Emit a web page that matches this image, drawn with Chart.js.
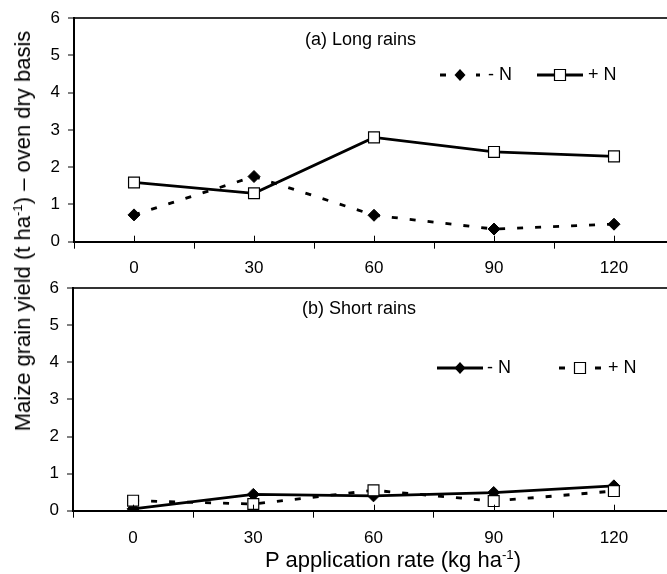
<!DOCTYPE html>
<html>
<head>
<meta charset="utf-8">
<script src="https://cdn.jsdelivr.net/npm/chart.js"></script>
<style>
  html, body { margin: 0; padding: 0; background: #fff; overflow: hidden; width: 667px; height: 574px; }
  #wrap { position: relative; width: 667px; height: 574px; font-family: 'Liberation Sans', Arial, sans-serif; }
  canvas { position: absolute; left: 0; }
  .ytitle, .xtitle { position: absolute; white-space: nowrap; font-size: 22px; color: #000; line-height: 1; }
  .ytitle { left: 23px; top: 231px; transform: translate(-50%, -50%) rotate(-90deg); }
  .xtitle { left: 393px; top: 560px; transform: translate(-50%, -50%); }
  sup { font-size: 0.6em; vertical-align: 0.6em; line-height: 0; }
</style>
</head>
<body>
<div id="wrap">
  <canvas id="top" width="690" height="280" style="top:0"></canvas>
  <canvas id="bottom" width="690" height="304" style="top:270px"></canvas>
  <div class="ytitle">Maize grain yield (t ha<sup>-1</sup>) – oven dry basis</div>
  <div class="xtitle">P application rate (kg ha<sup>-1</sup>)</div>
</div>
<script>
// P rates (kg/ha)
const categories = [0, 30, 60, 90, 120];
// (a) long rains
const longMinusN = [0.72, 1.75, 0.71, 0.34, 0.47];
const longPlusN = [1.59, 1.30, 2.80, 2.41, 2.29];
// (b) short rains
const shortMinusN = [0.05, 0.44, 0.40, 0.49, 0.67];
const shortPlusN = [0.27, 0.18, 0.55, 0.26, 0.53];

const FONT = "'Liberation Sans', Arial, sans-serif";
const DASH = [6, 12];
const LW = 2.8;

function pts(values) {
  return categories.map((c, i) => ({ x: c, y: values[i] }));
}

function marker(ctx, style, x, y) {
  ctx.save();
  ctx.setLineDash([]);
  ctx.beginPath();
  if (style === 'diamond') {
    ctx.moveTo(x, y - 6); ctx.lineTo(x + 5.5, y); ctx.lineTo(x, y + 6); ctx.lineTo(x - 5.5, y);
    ctx.closePath();
    ctx.fillStyle = '#000'; ctx.fill();
  } else {
    ctx.rect(x - 5.5, y - 5.5, 11, 11);
    ctx.fillStyle = '#fff'; ctx.fill();
    ctx.lineWidth = 1.2; ctx.strokeStyle = '#000'; ctx.stroke();
  }
  ctx.restore();
}

const decor = {
  id: 'decor',
  afterDraw(chart, args, opts) {
    const ctx = chart.ctx;
    const xs = chart.scales.x;
    ctx.save();
    // small inside ticks at each P rate
    ctx.strokeStyle = '#000'; ctx.lineWidth = 1;
    categories.forEach(c => {
      const px = Math.round(xs.getPixelForValue(c)) + 0.5;
      ctx.beginPath(); ctx.moveTo(px, xs.top); ctx.lineTo(px, xs.top - 6); ctx.stroke();
    });
    // panel label
    ctx.fillStyle = '#000';
    ctx.font = '18px ' + FONT;
    ctx.textBaseline = 'middle';
    ctx.textAlign = 'left';
    ctx.fillText(opts.label, opts.labelX, opts.labelY);
    // legend
    opts.legend.forEach(e => {
      ctx.save();
      ctx.strokeStyle = '#000'; ctx.lineWidth = 3;
      ctx.setLineDash(e.dashed ? DASH : []);
      ctx.beginPath(); ctx.moveTo(e.x0, e.y); ctx.lineTo(e.x1, e.y); ctx.stroke();
      ctx.restore();
      marker(ctx, e.marker, (e.x0 + e.x1) / 2, e.y);
      ctx.fillText(e.text, e.tx, e.y);
    });
    ctx.restore();
  }
};

function makeChart(id, minusN, plusN, minusDashed, decorOpts, axisW, padTop, xHeight, labelPad) {
  const minusSet = {
    label: '- N', data: pts(minusN), borderColor: '#000', backgroundColor: '#000',
    borderWidth: LW, borderDash: minusDashed ? DASH : [], pointStyle: 'rectRot',
    pointRadius: 6, pointHoverRadius: 6, pointBorderWidth: 1, tension: 0
  };
  const plusSet = {
    label: '+ N', data: pts(plusN), borderColor: '#000', backgroundColor: '#fff',
    borderWidth: LW, borderDash: minusDashed ? [] : DASH, pointStyle: 'rect',
    pointRadius: 7.7, pointHoverRadius: 7.7, pointBorderWidth: 1.2, tension: 0
  };
  return new Chart(document.getElementById(id), {
    type: 'line',
    data: { datasets: minusDashed ? [minusSet, plusSet] : [plusSet, minusSet] },
    options: {
      responsive: false,
      devicePixelRatio: 1,
      animation: false,
      layout: { padding: { top: padTop, right: 16, left: 0, bottom: 0 } },
      plugins: { legend: { display: false }, tooltip: { enabled: false }, decor: decorOpts },
      scales: {
        x: {
          type: 'linear', min: -15, max: 135,
          afterFit(s) { s.height = xHeight; },
          border: { color: '#000', width: 2 },
          grid: {
            drawOnChartArea: false, tickLength: 7, tickWidth: 1,
            tickColor: c => (c.tick && c.tick.value % 30 === 0) ? 'rgba(0,0,0,0)' : '#000'
          },
          ticks: {
            stepSize: 15, autoSkip: false, maxRotation: 0, padding: labelPad,
            color: '#000', font: { family: FONT, size: 17 },
            callback: v => (v >= 0 && v % 30 === 0) ? String(v) : ''
          }
        },
        y: {
          min: 0, max: 6,
          afterFit(s) { s.width = axisW; },
          border: { color: '#000', width: 2 },
          grid: {
            tickLength: 6, tickColor: '#000', tickWidth: 1,
            color: c => (c.tick && c.tick.value === 6) ? '#333' : 'rgba(0,0,0,0)',
            lineWidth: c => (c.tick && c.tick.value === 6) ? 2 : 0
          },
          ticks: { stepSize: 1, padding: 8, color: '#000', font: { family: FONT, size: 17 } }
        }
      }
    },
    plugins: [decor]
  });
}

makeChart('top', longMinusN, longPlusN, true, {
  label: '(a) Long rains', labelX: 305, labelY: 40,
  legend: [
    { text: '- N', marker: 'diamond', dashed: true, x0: 440, x1: 480, y: 75, tx: 488 },
    { text: '+ N', marker: 'square', dashed: false, x0: 537, x1: 583, y: 75, tx: 588 }
  ]
}, 74, 15, 38.3, 9);

makeChart('bottom', shortMinusN, shortPlusN, false, {
  label: '(b) Short rains', labelX: 302, labelY: 39,
  legend: [
    { text: '- N', marker: 'diamond', dashed: false, x0: 437, x1: 483, y: 98, tx: 487 },
    { text: '+ N', marker: 'square', dashed: true, x0: 559, x1: 601, y: 98, tx: 608 }
  ]
}, 73, 14, 63.3, 10);
</script>
</body>
</html>
